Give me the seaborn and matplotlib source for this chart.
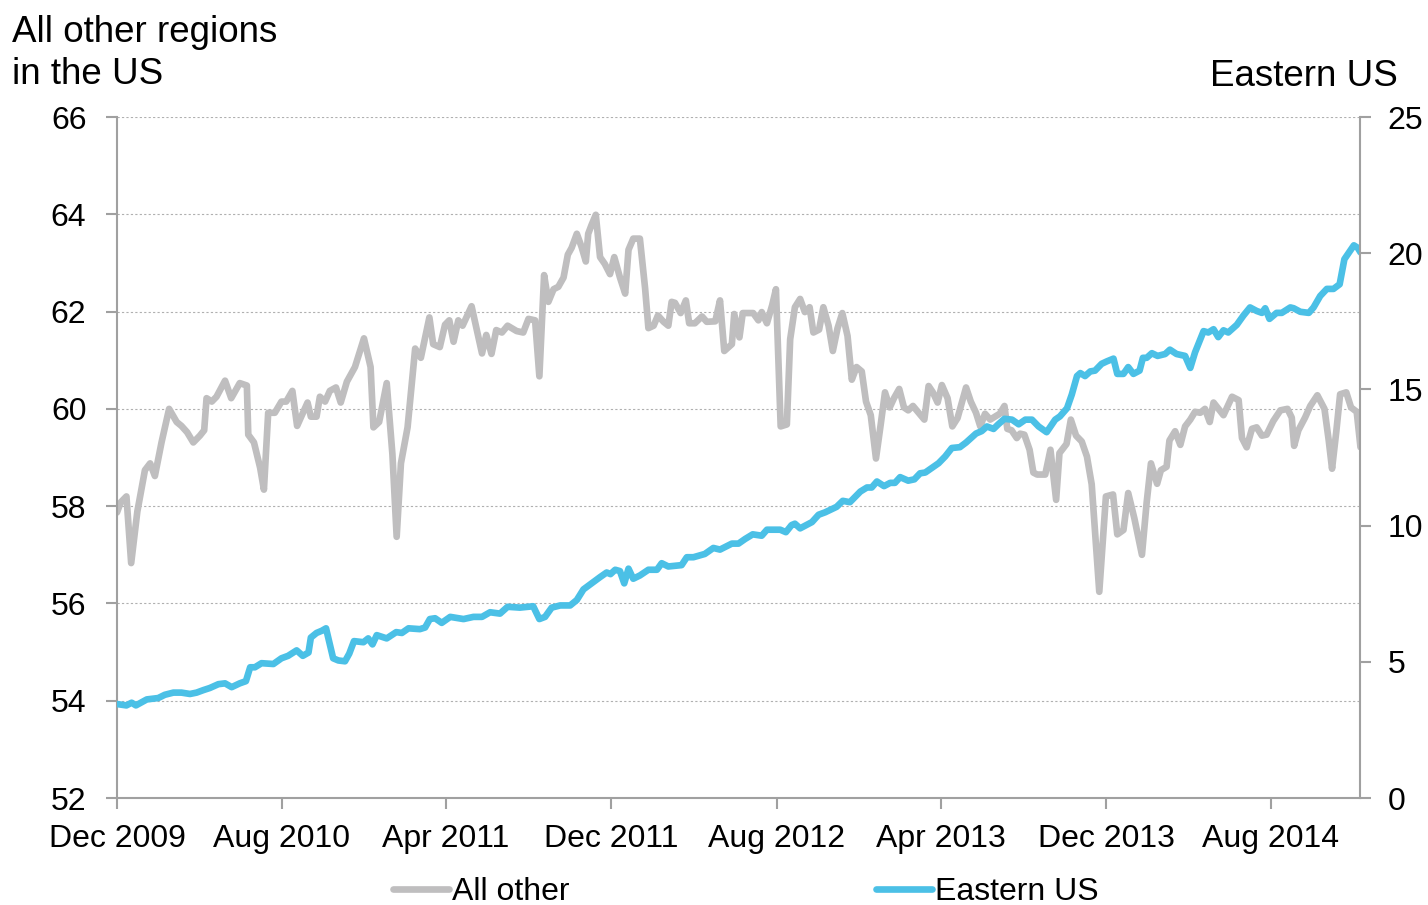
import numpy as np
import pandas as pd
import matplotlib
matplotlib.use('Agg')
import matplotlib.pyplot as plt
import matplotlib.dates as mdates
from matplotlib.lines import Line2D
import seaborn as sns

# weeks counted from 1 Dec 2009
weeks_other = [0, 0.8, 2.0, 3.0, 4.3, 5.9, 7.0, 8.0, 9.4, 11.0, 12.6, 13.6, 14.8, 16.1, 17.5, 18.4,
               18.9, 20.0, 21.0, 22.8, 24.1, 25.9, 27.4, 27.7, 28.9, 30.2, 31.0, 31.9, 33.3, 34.7,
               35.7, 37.0, 38.0, 40.2, 40.9, 42.1, 42.8, 43.9, 44.9, 46.2, 47.2, 48.5, 50.2, 52.1,
               53.5, 54.1, 55.3, 56.9, 58.1, 59.0, 59.9, 61.3, 62.9, 64.1, 65.9, 66.7, 68.1, 69.2,
               70.1, 71.0, 72.0, 72.9, 74.8, 75.9, 77.0, 77.9, 79.0, 80.0, 81.2, 82.4, 84.3, 85.7,
               86.8, 88.2, 89.1, 90.1, 91.0, 92.1, 93.1, 94.2, 95.1, 95.9, 97.0, 98.0, 98.9, 99.4,
               100.1, 101.0, 101.9, 102.9, 104.0, 104.9, 106.1, 107.2, 107.9, 108.9, 110.3, 111.4,
               112.1, 113.2, 114.1, 115.3, 116.3, 117.0, 117.7, 118.9, 120.0, 120.7, 121.9, 123.4,
               124.4, 126.2, 127.2, 128.1, 129.7, 130.2, 131.3, 132.0, 134.2, 135.3, 136.0, 137.1,
               138.2, 139.0, 140.0, 141.3, 142.0, 143.0, 144.1, 145.1, 146.1, 146.9, 148.1, 149.0,
               150.1, 151.0, 152.0, 153.0, 154.1, 155.0, 156.0, 157.1, 158.0, 159.0, 160.1, 161.1,
               162.0, 163.0, 163.9, 165.0, 166.0, 166.9, 167.9, 169.1, 170.3, 171.2, 172.1, 173.1,
               174.0, 175.2, 176.2, 177.3, 179.1, 180.1, 181.2, 182.1, 183.1, 184.2, 185.2, 186.2,
               187.2, 187.8, 188.7, 189.8, 190.5, 191.4, 192.5, 193.3, 194.1, 195.8, 196.9, 198.1,
               198.8, 200.3, 201.2, 202.3, 203.5, 204.6, 205.6, 207.2, 208.6, 210.1, 211.0, 212.3,
               213.3, 214.6, 216.2, 217.2, 218.1, 219.4, 220.2, 221.4, 222.0, 223.2, 224.3, 225.3,
               226.4, 227.4, 228.5, 229.5, 230.5, 231.3, 233.4, 235.2, 236.6, 237.3, 238.3, 239.4,
               240.4, 241.5, 242.5, 243.9, 245.4, 246.9, 247.8, 248.3, 249.2, 250.6, 251.7, 253.2,
               254.7, 255.6, 256.3, 257.2, 258.0, 259.3, 260.3, 261.5, 262.3]
all_other = [57.87, 58.08, 58.2, 56.83, 57.89, 58.74, 58.88, 58.62, 59.31, 60.0, 59.73, 59.65, 59.52,
             59.31, 59.45, 59.56, 60.22, 60.15, 60.25, 60.58, 60.22, 60.53, 60.48, 59.47, 59.31,
             58.79, 58.34, 59.92, 59.92, 60.15, 60.15, 60.37, 59.65, 60.13, 59.84, 59.84, 60.25,
             60.15, 60.37, 60.44, 60.13, 60.56, 60.86, 61.45, 60.86, 59.62, 59.73, 60.53, 59.07,
             57.37, 58.88, 59.62, 61.24, 61.05, 61.88, 61.33, 61.27, 61.73, 61.82, 61.38, 61.82,
             61.71, 62.11, 61.62, 61.14, 61.52, 61.13, 61.62, 61.57, 61.71, 61.60, 61.57, 61.85,
             61.82, 60.67, 62.75, 62.20, 62.46, 62.51, 62.70, 63.17, 63.31, 63.60, 63.33, 63.03,
             63.60, 63.78, 63.99, 63.12, 62.98, 62.77, 63.12, 62.70, 62.37, 63.27, 63.50, 63.50,
             62.48, 61.66, 61.71, 61.92, 61.79, 61.71, 62.20, 62.18, 61.97, 62.23, 61.76, 61.76,
             61.90, 61.79, 61.80, 62.23, 61.19, 61.33, 61.95, 61.47, 61.97, 61.97, 61.82, 61.99,
             61.76, 62.13, 62.46, 59.64, 59.68, 61.43, 62.09, 62.26, 61.99, 62.09, 61.57, 61.63,
             62.09, 61.71, 61.19, 61.66, 61.97, 61.50, 60.60, 60.86, 60.77, 60.15, 59.87, 58.98,
             59.68, 60.34, 60.03, 60.22, 60.41, 60.03, 59.97, 60.06, 59.92, 59.78, 60.47, 60.34,
             60.13, 60.49, 60.22, 59.64, 59.81, 60.44, 60.15, 59.92, 59.64, 59.90, 59.78, 59.84,
             59.90, 60.06, 59.59, 59.56, 59.40, 59.49, 59.47, 59.16, 58.69, 58.65, 58.65, 59.16,
             58.13, 59.09, 59.28, 59.78, 59.45, 59.33, 59.02, 58.45, 56.24, 58.20, 58.24, 57.42,
             57.51, 58.27, 57.75, 57.00, 58.08, 58.88, 58.46, 58.74, 58.81, 59.35, 59.54, 59.26,
             59.64, 59.78, 59.94, 59.92, 60.00, 59.73, 60.13, 59.87, 60.25, 60.18, 59.40, 59.21,
             59.59, 59.62, 59.45, 59.47, 59.75, 59.97, 60.00, 59.82, 59.24, 59.56, 59.82, 60.06,
             60.28, 60.00, 59.35, 58.77, 59.54, 60.30, 60.34, 60.03, 59.94, 59.21]

weeks_east = [0, 2.0, 3.1, 4.0, 6.3, 8.7, 10.1, 11.9, 13.6, 15.4, 16.8, 18.2, 19.6, 21.4, 22.8, 24.2,
              25.9, 27.2, 28.1, 29.1, 30.5, 33.0, 34.7, 36.1, 37.9, 39.2, 40.4, 40.9, 42.1, 43.2,
              44.1, 45.6, 46.7, 48.1, 49.0, 50.0, 52.0, 53.0, 53.9, 54.8, 56.9, 58.9, 60.1, 61.5,
              63.9, 65.0, 66.0, 67.1, 68.5, 70.3, 73.1, 75.2, 77.0, 78.7, 80.8, 82.4, 85.0, 87.8,
              89.1, 90.3, 91.7, 93.5, 95.6, 97.0, 98.4, 100.1, 101.9, 103.3, 104.1, 105.1, 106.1,
              107.0, 107.9, 108.9, 110.3, 112.1, 113.9, 114.9, 116.3, 119.1, 120.2, 121.6, 124.0,
              125.8, 127.2, 129.7, 131.1, 132.5, 134.1, 136.0, 137.1, 139.9, 141.1, 142.3, 143.0,
              144.1, 146.6, 148.0, 149.4, 151.8, 153.1, 154.6, 156.8, 158.2, 159.2, 160.3, 161.8,
              163.1, 164.1, 165.2, 166.9, 168.2, 169.4, 170.5, 171.9, 173.3, 174.7, 176.1, 177.8,
              179.1, 181.2, 182.4, 183.5, 184.9, 185.9, 187.2, 188.8, 190.2, 191.6, 193.0, 194.4,
              196.1, 197.9, 198.9, 200.4, 201.4, 202.5, 203.2, 204.2, 205.3, 206.3, 207.7, 208.8,
              210.2, 211.0, 212.3, 213.3, 214.4, 215.7, 216.4, 217.2, 218.3, 219.5, 221.1, 222.1,
              223.5, 225.3, 226.4, 227.4, 229.2, 230.2, 231.3, 232.3, 233.4, 234.4, 236.2, 237.6,
              239.0, 240.4, 241.5, 242.2, 243.1, 244.6, 245.7, 247.5, 248.2, 249.6, 251.4, 252.4,
              253.8, 255.2, 256.6, 257.9, 258.9, 260.9, 261.7, 262.3]
eastern_us = [3.45, 3.40, 3.50, 3.40, 3.62, 3.67, 3.79, 3.87, 3.87, 3.82, 3.87, 3.96, 4.04, 4.18,
              4.21, 4.07, 4.21, 4.29, 4.80, 4.80, 4.95, 4.92, 5.13, 5.22, 5.42, 5.22, 5.34, 5.89,
              6.06, 6.14, 6.23, 5.13, 5.05, 5.02, 5.30, 5.76, 5.72, 5.86, 5.64, 5.98, 5.86, 6.09,
              6.06, 6.23, 6.20, 6.26, 6.57, 6.60, 6.43, 6.65, 6.57, 6.65, 6.65, 6.82, 6.77, 7.02,
              6.99, 7.04, 6.57, 6.65, 6.99, 7.07, 7.07, 7.27, 7.66, 7.88, 8.11, 8.28, 8.22, 8.38,
              8.33, 7.88, 8.42, 8.05, 8.17, 8.38, 8.38, 8.62, 8.50, 8.55, 8.84, 8.84, 8.96, 9.18,
              9.12, 9.34, 9.34, 9.51, 9.68, 9.63, 9.85, 9.85, 9.76, 10.02, 10.07, 9.90, 10.13,
              10.40, 10.49, 10.69, 10.91, 10.86, 11.25, 11.40, 11.40, 11.62, 11.45, 11.57, 11.57,
              11.78, 11.65, 11.70, 11.92, 11.95, 12.12, 12.29, 12.54, 12.85, 12.88, 13.05, 13.38,
              13.47, 13.64, 13.55, 13.72, 13.92, 13.89, 13.72, 13.89, 13.89, 13.64, 13.43, 13.89,
              14.01, 14.31, 14.81, 15.49, 15.60, 15.49, 15.66, 15.69, 15.94, 16.03, 16.13, 15.57,
              15.57, 15.82, 15.57, 15.69, 16.16, 16.16, 16.33, 16.23, 16.30, 16.46, 16.30, 16.23,
              15.79, 16.36, 17.14, 17.09, 17.21, 16.92, 17.17, 17.09, 17.37, 17.71, 18.01, 17.88,
              17.81, 17.98, 17.59, 17.81, 17.81, 18.01, 17.98, 17.85, 17.81, 18.01, 18.43, 18.69,
              18.69, 18.86, 19.78, 20.29, 20.20, 20.03]

tick_dates = ['2009-12-01', '2010-08-01', '2011-04-01', '2011-12-01',
              '2012-08-01', '2013-04-01', '2013-12-01', '2014-08-01']

start = pd.Timestamp('2009-12-01')
df_other = pd.DataFrame({'date': start + pd.to_timedelta(np.array(weeks_other) * 7, unit='D'),
                         'value': all_other})
df_east = pd.DataFrame({'date': start + pd.to_timedelta(np.array(weeks_east) * 7, unit='D'),
                        'value': eastern_us})

sns.set_style('white')
plt.rcParams['font.family'] = ['Liberation Sans', 'DejaVu Sans']
plt.rcParams['text.color'] = 'black'

gray = '#BFBEBF'
blue = '#4BC0E6'
axis_col = '#A0A0A0'
fs = 23
lw = 4.8

fig = plt.figure(figsize=(14.28, 9.05), dpi=100)
ax = fig.add_axes([0.0819, 0.1182, 0.8705, 0.7525])
ax2 = ax.twinx()

sns.lineplot(data=df_other, x='date', y='value', ax=ax, color=gray, linewidth=lw)
sns.lineplot(data=df_east, x='date', y='value', ax=ax2, color=blue, linewidth=lw)

ax.set_xlim(start, start + pd.Timedelta(days=262.2 * 7))
ax.set_ylim(52, 66)
ax.set_yticks(range(52, 67, 2))
ax2.set_ylim(0, 25)
ax2.set_yticks(range(0, 26, 5))
ax.set_xticks(pd.to_datetime(tick_dates))
ax.xaxis.set_major_formatter(mdates.DateFormatter('%b %Y'))

for a in (ax, ax2):
    a.set_xlabel('')
    a.set_ylabel('')
    a.spines['top'].set_visible(False)
    for s in a.spines.values():
        s.set_color(axis_col)
        s.set_linewidth(1.5)
ax.spines['right'].set_visible(False)
ax2.spines['left'].set_visible(False)
ax2.spines['bottom'].set_visible(False)

ax.yaxis.grid(True, color='#B0B0B0', linestyle=(0, (2, 2)), linewidth=0.8)
ax.set_axisbelow(True)

ax.tick_params(axis='y', direction='out', length=8, width=1.5, color=axis_col,
               labelcolor='black', labelsize=fs, pad=14, left=True)
ax.tick_params(axis='x', direction='out', length=8, width=1.5, color=axis_col,
               labelcolor='black', labelsize=fs, pad=11, bottom=True)
ax2.tick_params(axis='y', direction='out', length=8, width=1.5, color=axis_col,
                labelcolor='black', labelsize=fs, pad=12, right=True)

fig.text(0.0084, 1 - 84 / 905, 'All other regions\nin the US', fontsize=26.5,
         ha='left', va='baseline', linespacing=1.25)
fig.text(1398 / 1428, 1 - 86 / 905, 'Eastern US', fontsize=26.5, ha='right', va='baseline')

handles = [Line2D([], [], color=gray, linewidth=lw),
           Line2D([], [], color=blue, linewidth=lw)]
fig.legend(handles, ['All other', 'Eastern US'], loc='center',
           bbox_to_anchor=(746 / 1428, 1 - 892 / 905), ncol=2, frameon=False,
           fontsize=fs, handlelength=1.75, handletextpad=0.1, columnspacing=9.6)

fig.savefig('out.png', dpi=100)
